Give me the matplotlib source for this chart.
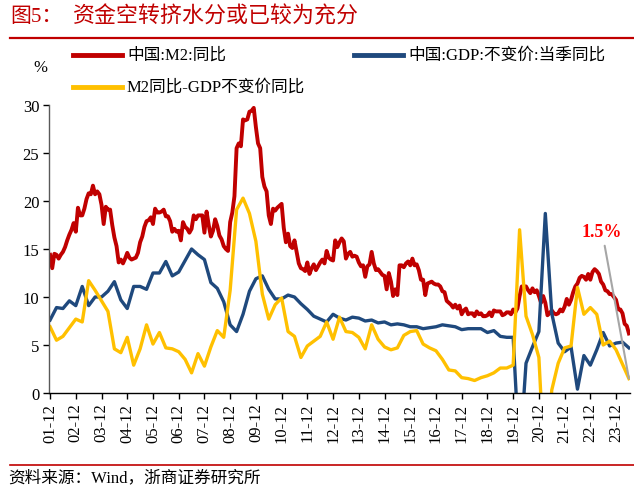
import matplotlib
matplotlib.use("Agg")
import numpy as np
import matplotlib.pyplot as plt
from matplotlib.lines import Line2D

# China M2 yoy, monthly, 2001-12 .. 2024-06 (%)
m2 = [14.4,
      13.0, 14.5, 14.4, 14.0, 14.4, 14.7, 15.2, 15.9, 16.5, 17.0, 17.7, 16.8,
      19.3, 18.5, 18.5, 19.2, 20.2, 20.8, 20.7, 21.6, 20.7, 21.0, 20.7, 19.6,
      17.6, 19.4, 19.1, 19.1, 17.5, 16.2, 15.3, 13.6, 13.9, 13.5, 14.0, 14.6,
      14.1, 13.9, 14.0, 14.1, 14.6, 15.7, 16.3, 17.3, 17.9, 18.0, 18.3, 17.6,
      19.2, 18.8, 18.8, 18.9, 19.1, 18.4, 18.4, 17.9, 16.8, 17.1, 16.8, 16.9,
      15.9, 17.8, 17.3, 17.1, 16.7, 17.1, 18.5, 18.1, 18.5, 18.5, 18.5, 16.7,
      18.9, 17.5, 16.3, 16.9, 18.1, 17.4, 16.4, 16.0, 15.3, 15.0, 14.8, 17.8,
      18.8, 20.5, 25.5, 26.0, 25.7, 28.5, 28.4, 28.5, 29.3, 29.4, 29.7, 27.7,
      26.0, 25.5, 22.5, 21.5, 21.0, 18.5, 17.6, 19.2, 19.0, 19.3, 19.5, 19.7,
      17.2, 15.7, 16.6, 15.3, 15.1, 15.9, 14.7, 13.5, 13.0, 12.9, 12.7, 13.6,
      12.4, 13.0, 13.4, 12.8, 13.2, 13.6, 13.9, 13.5, 14.8, 14.1, 13.9, 13.8,
      15.9, 15.2, 15.7, 16.1, 15.8, 14.0, 14.5, 14.7, 14.2, 14.3, 14.2, 13.6,
      13.2, 13.3, 12.1, 13.2, 13.4, 14.7, 13.5, 12.8, 12.9, 12.6, 12.3, 12.2,
      10.8, 12.5, 11.6, 10.1, 10.8, 10.2, 13.3, 13.3, 13.1, 13.5, 13.7, 13.3,
      14.0, 13.3, 13.4, 12.8, 11.8, 11.8, 10.2, 11.4, 11.5, 11.6, 11.4, 11.3,
      11.3, 11.1, 10.6, 10.5, 9.6, 9.4, 9.2, 8.9, 9.2, 8.8, 9.1, 8.2,
      8.6, 8.8, 8.2, 8.3, 8.3, 8.0, 8.5, 8.2, 8.3, 8.0, 8.0, 8.1,
      8.4, 8.0, 8.6, 8.5, 8.5, 8.5, 8.1, 8.2, 8.4, 8.4, 8.2, 8.7,
      8.4, 8.8, 10.1, 11.1, 11.1, 11.1, 10.7, 10.4, 10.9, 10.5, 10.7, 10.1,
      9.4, 10.1, 9.4, 8.1, 8.3, 8.6, 8.3, 8.2, 8.3, 8.7, 8.5, 9.0,
      9.8, 9.2, 9.7, 10.5, 11.1, 11.4, 12.0, 12.2, 12.1, 11.8, 12.4, 11.8,
      12.6, 12.9, 12.7, 12.4, 11.6, 11.3, 10.7, 10.6, 10.3, 10.3, 10.0, 9.7,
      8.7, 8.7, 8.3, 7.2, 7.0, 6.2]

# GDP constant price yoy, quarterly, 2001Q4 .. 2024Q2 (%)
gdp = [7.6,
       8.9, 8.8, 9.6, 9.1,
       11.1, 9.1, 10.0, 10.0,
       10.6, 11.6, 9.7, 8.8,
       11.1, 11.1, 10.8, 12.5,
       12.5, 13.7, 12.2, 12.6,
       13.8, 15.0, 14.4, 13.9,
       11.5, 10.9, 9.5, 7.1,
       6.4, 8.2, 10.6, 11.9,
       12.2, 10.8, 9.8, 9.8,
       10.2, 10.0, 9.3, 8.7,
       8.0, 7.7, 7.4, 8.2,
       7.8, 7.6, 7.9, 7.8,
       7.5, 7.6, 7.3, 7.4,
       7.1, 7.2, 7.1, 6.9,
       6.9, 6.7, 6.8, 6.9,
       7.1, 7.0, 6.9, 6.6,
       6.7, 6.7, 6.7, 6.3,
       6.5, 5.9, 5.8, 5.8,
       -6.9, 3.1, 4.8, 6.4,
       18.7, 8.3, 5.2, 4.3,
       4.8, 0.4, 3.9, 2.9,
       4.5, 6.3, 4.9, 5.2,
       5.3, 4.7]

# M2 yoy minus GDP yoy, quarterly (%)
gap = [6.9,
       5.5, 5.9, 6.8, 7.7,
       7.4, 11.7, 10.7, 9.6,
       8.5, 4.6, 4.2, 5.8,
       2.9, 4.6, 7.1, 5.1,
       6.3, 4.7, 4.6, 4.3,
       3.5, 2.1, 4.1, 2.8,
       4.8, 6.5, 5.8, 10.7,
       19.1, 20.3, 18.7, 15.8,
       10.3, 7.7, 9.2, 9.9,
       6.4, 5.9, 3.7, 4.9,
       5.4, 5.9, 7.4, 5.6,
       7.9, 6.4, 6.3, 5.8,
       4.6, 7.1, 5.6, 4.8,
       4.5, 4.7, 6.0, 6.4,
       6.5, 5.1, 4.7, 4.4,
       3.5, 2.4, 2.3, 1.6,
       1.5, 1.3, 1.6, 1.8,
       2.1, 2.6, 2.6, 2.9,
       17.0, 8.0, 6.1, 3.7,
       -9.3, 0.3, 3.1, 4.7,
       4.9, 11.0, 8.2, 8.9,
       8.2, 5.0, 5.4, 4.5,
       3.0, 1.5]

tick_labels = ["%02d-12" % y for y in range(1, 24)]

RED = "#C00000"
BLUE = "#1F497D"
YELLOW = "#FFC000"
FONT = ["Liberation Serif", "Noto Sans CJK SC"]

W, H = 634, 489
fig = plt.figure(figsize=(W / 100, H / 100), dpi=100)


def fx(px):
    return px / W


def fy(py):
    return 1 - py / H


ax = fig.add_axes([fx(49), fy(394), fx(630) - fx(49), fy(106) - fy(394)])

months = np.arange(len(m2))
quarters = np.arange(len(gdp)) * 3

ax.plot(months, m2, color=RED, lw=2.8, solid_joinstyle="round")
ax.plot(quarters, gdp, color=BLUE, lw=2.4, solid_joinstyle="round")
ax.plot(quarters, gap, color=YELLOW, lw=2.4, solid_joinstyle="round")

ax.set_xlim(-0.5, 270.5)
ax.set_ylim(0, 30)
ax.set_yticks(range(0, 31, 5))
ax.set_xticks(range(0, 12 * len(tick_labels), 12))
ax.set_xticklabels(tick_labels, rotation=90)
for lab in ax.get_xticklabels() + ax.get_yticklabels():
    lab.set_family(FONT)
    lab.set_fontsize(12)

for s in ["top", "right"]:
    ax.spines[s].set_visible(False)
ax.spines["left"].set_color("#595959")
ax.spines["left"].set_linewidth(1.0)
ax.spines["bottom"].set_color("black")
ax.spines["bottom"].set_linewidth(1.0)
ax.tick_params(axis="both", direction="out", length=4, width=1, pad=3)

# annotation for last gap value
ax.annotate("1.5%", xy=(quarters[-1], gap[-1]), xytext=(257.5, 16.8),
            ha="center", va="center", color="#FF0000", fontsize=13,
            fontweight="bold", family=FONT,
            arrowprops=dict(arrowstyle="-", color="#A6A6A6", lw=1.5,
                            shrinkA=2, shrinkB=0))

# y unit
fig.text(fx(40), fy(68), "%", ha="center", va="center", fontsize=12, family=FONT)

# legend
leg = [(RED, "中国:M2:同比", 73, 56),
       (BLUE, "中国:GDP:不变价:当季同比", 354, 56),
       (YELLOW, "M2同比-GDP不变价同比", 73, 88)]
for c, txt, x0, y0 in leg:
    fig.add_artist(Line2D([fx(x0), fx(x0 + 49)], [fy(y0), fy(y0)], color=c,
                          lw=3.5, transform=fig.transFigure))
    fig.text(fx(x0 + 54), fy(y0), txt, ha="left", va="center", fontsize=12,
             family=FONT)

# title + rules + source
fig.text(fx(10), fy(17), "图5：", ha="left", va="center", fontsize=15,
         color=RED, family=FONT)
fig.text(fx(73), fy(17), "资金空转挤水分或已较为充分", ha="left", va="center",
         fontsize=15.8, color=RED, family=FONT)
fig.add_artist(Line2D([fx(10), fx(634)], [fy(39), fy(39)], color=RED, lw=1.6,
                      transform=fig.transFigure))
fig.add_artist(Line2D([fx(10), fx(634)], [fy(466), fy(466)], color=RED, lw=1.2,
                      transform=fig.transFigure))
fig.text(fx(8), fy(478), "资料来源：Wind，浙商证券研究所", ha="left", va="center",
         fontsize=12, family=FONT)

fig.savefig("out.png", dpi=100)
